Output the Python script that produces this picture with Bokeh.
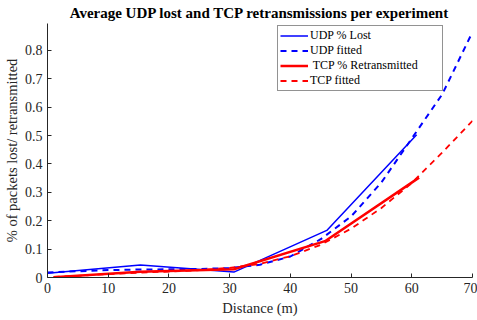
from bokeh.plotting import figure
from bokeh.embed import file_html
from bokeh.resources import INLINE
from bokeh.models import Range1d, FixedTicker, Legend, LegendItem

# ---- data ----
udp_x = [0, 15.3, 30.7, 46, 60.8]
udp_lost = [0.015, 0.044, 0.019, 0.166, 0.503]

tcp_x = [1, 15.3, 30.7, 45.7, 61.2]
tcp_retx = [0.001, 0.020, 0.029, 0.128, 0.352]

fit_x = [0, 5, 10, 15, 20, 25, 30, 35, 40, 45, 50, 55, 60, 65, 70]
udp_fit = [0.018, 0.022, 0.026, 0.028, 0.029, 0.030, 0.033, 0.045, 0.074, 0.135, 0.215, 0.335, 0.49, 0.645, 0.865]
tcp_fit_x = [1, 5, 10, 15, 20, 25, 30, 35, 40, 45, 50, 55, 60, 65, 70]
tcp_fit = [0.002, 0.006, 0.012, 0.017, 0.021, 0.026, 0.034, 0.048, 0.075, 0.115, 0.172, 0.245, 0.333, 0.44, 0.552]

x_ticks = [0, 10, 20, 30, 40, 50, 60, 70]
y_ticks = [0, 0.1, 0.2, 0.3, 0.4, 0.5, 0.6, 0.7, 0.8]
y_tick_labels = ["0", "0.1", "0.2", "0.3", "0.4", "0.5", "0.6", "0.7", "0.8"]

title = "Average UDP lost and TCP retransmissions per experiment"
xlabel = "Distance (m)"
ylabel = "% of packets lost/ retransmitted"
labels = ["UDP % Lost", "UDP fitted", " TCP % Retransmitted", "TCP fitted"]

SERIF = "Liberation Serif"
AX = "#262626"

p = figure(frame_width=425, frame_height=254, output_backend="svg", toolbar_location=None,
           x_range=Range1d(0, 70), y_range=Range1d(0, 0.895),
           min_border_left=39, min_border_right=5, min_border_top=15, min_border_bottom=40)
p.title.text = title
p.title.align = "center"
p.title.text_font = SERIF
p.title.text_font_size = "15px"
p.title.text_font_style = "bold"
p.title.text_color = "#000000"
p.title.offset = 0
p.title.standoff = 5

p.grid.visible = False
p.outline_line_color = None
p.background_fill_color = "white"
p.border_fill_color = "white"

for ax in (p.xaxis[0], p.yaxis[0]):
    ax.axis_line_color = AX
    ax.major_tick_line_color = AX
    ax.minor_tick_line_color = None
    ax.major_tick_in = 4
    ax.major_tick_out = 0
    ax.major_label_text_font = SERIF
    ax.major_label_text_font_size = "14px"
    ax.major_label_text_color = AX
    ax.axis_label_text_font = SERIF
    ax.axis_label_text_font_size = "14.5px"
    ax.axis_label_text_color = AX
    ax.axis_label_text_font_style = "normal"

p.xaxis.ticker = FixedTicker(ticks=x_ticks)
p.yaxis.ticker = FixedTicker(ticks=y_ticks)
p.yaxis.major_label_overrides = {t: l for t, l in zip(y_ticks, y_tick_labels)}
p.xaxis.axis_label = xlabel
p.yaxis.axis_label = ylabel
p.xaxis.major_label_standoff = 5
p.xaxis.axis_label_standoff = 4
p.yaxis.major_label_standoff = 5
p.yaxis.axis_label_standoff = 2

r1 = p.line(udp_x, udp_lost, line_color="#0000ff", line_width=1.5)
r2 = p.line(fit_x, udp_fit, line_color="#0000ff", line_width=2, line_dash="6 5")
r3 = p.line(tcp_x, tcp_retx, line_color="#ff0000", line_width=2.5)
r4 = p.line(tcp_fit_x, tcp_fit, line_color="#ff0000", line_width=1.8, line_dash="6 5")

legend = Legend(items=[LegendItem(label=l, renderers=[r]) for l, r in zip(labels, [r1, r2, r3, r4])],
                location=(230, 186))
legend.label_text_font = SERIF
legend.label_text_font_size = "12px"
legend.label_text_color = "#000000"
legend.border_line_color = AX
legend.border_line_width = 1
legend.glyph_width = 28
legend.glyph_height = 15
legend.label_height = 15
legend.label_width = 130
legend.spacing = 0
legend.padding = 2
legend.margin = 0
legend.label_standoff = 2
p.add_layout(legend, "center")

open("out.html", "w").write(file_html(p, INLINE))
